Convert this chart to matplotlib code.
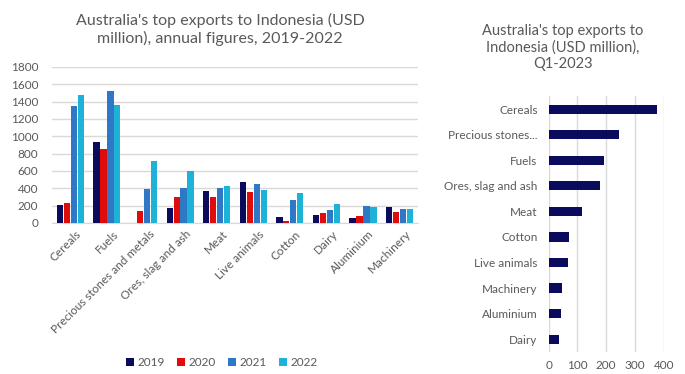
import numpy as np
import matplotlib
matplotlib.use("Agg")
import matplotlib.pyplot as plt

plt.rcParams['font.family'] = ['Lato', 'DejaVu Sans']

# left chart: annual figures 2019-2022
categories = ["Cereals", "Fuels", "Precious stones and metals", "Ores, slag and ash",
              "Meat", "Live animals", "Cotton", "Dairy", "Aluminium", "Machinery"]
years = ["2019", "2020", "2021", "2022"]
v2019 = [210, 935, 0, 175, 365, 472, 70, 93, 62, 185]
v2020 = [232, 857, 135, 297, 297, 351, 23, 112, 77, 124]
v2021 = [1345, 1522, 392, 405, 405, 444, 270, 150, 193, 158]
v2022 = [1472, 1363, 715, 603, 425, 382, 340, 216, 185, 162]
year_colors = ["#0b0b5e", "#e00b0b", "#2e78c6", "#1fb2d8"]

# right chart: Q1-2023
q1_labels = ["Cereals", "Precious stones...", "Fuels", "Ores, slag and ash", "Meat",
             "Cotton", "Live animals", "Machinery", "Aluminium", "Dairy"]
q1_values = [375, 245, 192, 178, 117, 72, 68, 46, 44, 36]

text_col = "#595959"
grid_col = "#d9d9d9"

fig = plt.figure(figsize=(6.85, 3.74), dpi=100)

# ---- left
ax = fig.add_axes([0.076, 0.404, 0.534, 0.417])
x = np.arange(len(categories))
w = 0.17
for i, (vals, lab) in enumerate(zip([v2019, v2020, v2021, v2022], years)):
    ax.bar(x + (i - 1.5) * 0.19, vals, w, color=year_colors[i], label=lab, zorder=3)
ax.set_ylim(0, 1800)
ax.set_yticks(range(0, 1801, 200))
ax.set_xlim(-0.5, len(categories) - 0.5)
ax.set_xticks(x + 0.15)
ax.set_xticklabels(categories, rotation=45, ha="right", rotation_mode="anchor")
ax.yaxis.grid(True, color=grid_col, lw=1)
ax.set_axisbelow(True)
for s in ["top", "right", "left"]:
    ax.spines[s].set_visible(False)
ax.spines["bottom"].set_color(grid_col)
ax.tick_params(length=0, colors=text_col, labelsize=8.5)
ax.tick_params(axis="x", pad=4)
ax.tick_params(axis="y", pad=10)
fig.text(0.321, 0.965, "Australia's top exports to Indonesia (USD\nmillion), annual figures, 2019-2022",
         ha="center", va="top", color=text_col, fontsize=11.5, linespacing=1.2)
fig.legend(loc="center", bbox_to_anchor=(0.324, 0.03), ncol=4, frameon=False,
           fontsize=8.5, handlelength=0.7, handleheight=0.7, handletextpad=0.3,
           columnspacing=1.0, labelcolor=text_col)

# ---- right
ax2 = fig.add_axes([0.801, 0.059, 0.168, 0.683])
y = np.arange(len(q1_labels))
ax2.barh(y, q1_values, 0.36, color="#0b0b5e", zorder=3)
ax2.set_ylim(len(q1_labels) - 0.5, -0.5)
ax2.set_yticks(y)
ax2.set_yticklabels(q1_labels)
ax2.set_xlim(0, 400)
ax2.set_xticks(range(0, 401, 100))
ax2.xaxis.grid(True, color=grid_col, lw=1)
ax2.set_axisbelow(True)
for s in ax2.spines.values():
    s.set_visible(False)
ax2.tick_params(length=0, colors=text_col, labelsize=8.5)
ax2.tick_params(axis="y", pad=8)
ax2.tick_params(axis="x", pad=6)
fig.text(0.822, 0.935, "Australia's top exports to\nIndonesia (USD million),\nQ1-2023",
         ha="center", va="top", color=text_col, fontsize=10.5, linespacing=1.2)

fig.savefig("out.png", dpi=100)
